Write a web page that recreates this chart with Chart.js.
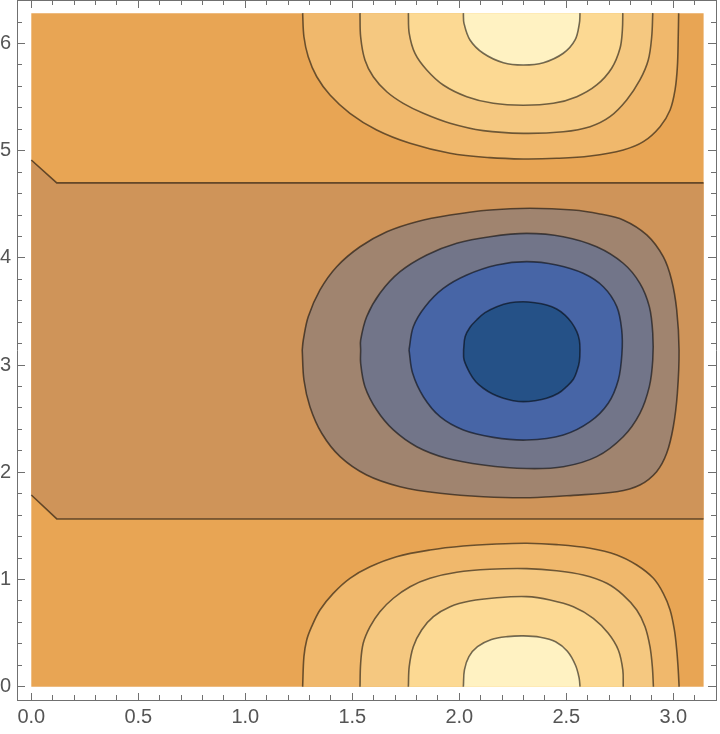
<!DOCTYPE html>
<html>
<head>
<meta charset="utf-8">
<script src="https://cdn.jsdelivr.net/npm/chart.js@4.4.1/dist/chart.umd.min.js"></script>
<style>
  html, body { margin: 0; padding: 0; background: #fff; }
</style>
</head>
<body>
<canvas id="chart" width="720" height="734"></canvas>
<script>
// Contour plot over x in [0, pi], y in [0, 2pi].
// Every contour is a list of [x, y] vertices.

const PI = 3.1416;
const TWO_PI = 6.2832;

// axis ticks
const xMajor = [0, 0.5, 1, 1.5, 2, 2.5, 3];
const xMajorLabels = ['0.0', '0.5', '1.0', '1.5', '2.0', '2.5', '3.0'];
const xMinor = [0.1, 0.2, 0.3, 0.4, 0.6, 0.7, 0.8, 0.9, 1.1, 1.2, 1.3, 1.4, 1.6, 1.7, 1.8, 1.9,
                2.1, 2.2, 2.3, 2.4, 2.6, 2.7, 2.8, 2.9, 3.1];
const yMajor = [0, 1, 2, 3, 4, 5, 6];
const yMajorLabels = ['0', '1', '2', '3', '4', '5', '6'];
const yMinor = [0.2, 0.4, 0.6, 0.8, 1.2, 1.4, 1.6, 1.8, 2.2, 2.4, 2.6, 2.8, 3.2, 3.4, 3.6, 3.8,
                4.2, 4.4, 4.6, 4.8, 5.2, 5.4, 5.6, 5.8, 6.2];

// whole plot region and the band between the two zero contours
const plate = [[0, 0], [PI, 0], [PI, TWO_PI], [0, TWO_PI]];
const band = [[0, 1.788], [0.119, 1.565], [PI, 1.565], [PI, 4.700], [0.119, 4.700], [0, 4.913]];
const zeroLow = [[0, 1.788], [0.119, 1.565], [PI, 1.565]];
const zeroHigh = [[0, 4.913], [0.119, 4.700], [PI, 4.700]];

// positive levels at the bottom edge (y = 0)
const lowRing1 = [[1.268, 0], [1.274, 0.280], [1.287, 0.436], [1.310, 0.560], [1.349, 0.716], [1.411, 0.871],
  [1.489, 1.011], [1.583, 1.119], [1.707, 1.213], [1.863, 1.275], [2.019, 1.312], [2.175, 1.331], [2.315, 1.338],
  [2.455, 1.325], [2.611, 1.291], [2.736, 1.229], [2.829, 1.135], [2.907, 1.011], [2.953, 0.871], [2.985, 0.716],
  [3.005, 0.529], [3.016, 0.342], [3.023, 0.156], [3.027, 0]];
const lowRing2 = [[1.536, 0], [1.539, 0.218], [1.551, 0.405], [1.583, 0.560], [1.629, 0.700], [1.692, 0.825],
  [1.770, 0.933], [1.863, 1.011], [1.988, 1.067], [2.143, 1.095], [2.315, 1.101], [2.455, 1.082], [2.579, 1.042],
  [2.689, 0.965], [2.766, 0.855], [2.829, 0.716], [2.868, 0.560], [2.891, 0.373], [2.902, 0.187], [2.907, 0]];
const lowRing3 = [[1.762, 0], [1.766, 0.187], [1.785, 0.373], [1.824, 0.529], [1.879, 0.653], [1.957, 0.746],
  [2.050, 0.799], [2.175, 0.830], [2.315, 0.840], [2.424, 0.809], [2.533, 0.746], [2.626, 0.638], [2.696, 0.498],
  [2.743, 0.342], [2.764, 0.156], [2.766, 0]];
const lowRing4 = [[2.019, 0], [2.024, 0.156], [2.045, 0.280], [2.085, 0.373], [2.150, 0.440], [2.225, 0.467],
  [2.300, 0.474], [2.378, 0.462], [2.450, 0.420], [2.505, 0.330], [2.543, 0.200], [2.560, 0.080], [2.564, 0]];

// positive levels at the top edge (y = 2pi)
const highRing1 = [[1.268, TWO_PI], [1.274, 6.063], [1.294, 5.877], [1.334, 5.690], [1.396, 5.520], [1.489, 5.349],
  [1.614, 5.193], [1.770, 5.069], [1.957, 4.976], [2.143, 4.935], [2.299, 4.923], [2.455, 4.929], [2.611, 4.951],
  [2.766, 5.007], [2.860, 5.084], [2.938, 5.224], [2.985, 5.380], [3.008, 5.566], [3.019, 5.784], [3.023, 6.063],
  [3.025, TWO_PI]];
const highRing2 = [[1.536, TWO_PI], [1.539, 6.063], [1.559, 5.846], [1.598, 5.690], [1.661, 5.550], [1.738, 5.442],
  [1.832, 5.349], [1.957, 5.256], [2.112, 5.187], [2.299, 5.162], [2.486, 5.177], [2.611, 5.224], [2.704, 5.317],
  [2.782, 5.473], [2.844, 5.660], [2.883, 5.846], [2.899, 6.063], [2.904, TWO_PI]];
const highRing3 = [[1.762, TWO_PI], [1.766, 6.095], [1.793, 5.908], [1.848, 5.753], [1.925, 5.613], [2.035, 5.504],
  [2.159, 5.442], [2.299, 5.424], [2.439, 5.442], [2.549, 5.504], [2.642, 5.613], [2.712, 5.769], [2.751, 5.955],
  [2.762, 6.126], [2.764, TWO_PI]];
const highRing4 = [[2.019, TWO_PI], [2.022, 6.188], [2.050, 6.033], [2.112, 5.909], [2.206, 5.821], [2.299, 5.800],
  [2.393, 5.821], [2.486, 5.909], [2.541, 6.033], [2.561, 6.188], [2.564, TWO_PI]];

// negative levels around y = pi (closed loops)
const dip1 = [[1.266, 3.141], [1.271, 3.234], [1.294, 3.451], [1.349, 3.701], [1.427, 3.918], [1.536, 4.104],
  [1.661, 4.244], [1.801, 4.338], [1.957, 4.400], [2.143, 4.447], [2.330, 4.463], [2.533, 4.447], [2.657, 4.410],
  [2.766, 4.354], [2.876, 4.214], [2.953, 4.011], [2.992, 3.794], [3.016, 3.514], [3.027, 3.141], [3.019, 2.737],
  [3.000, 2.425], [2.969, 2.177], [2.922, 2.006], [2.844, 1.882], [2.736, 1.819], [2.533, 1.785], [2.330, 1.763],
  [2.112, 1.772], [1.910, 1.804], [1.723, 1.866], [1.567, 1.975], [1.443, 2.146], [1.357, 2.364], [1.302, 2.612],
  [1.274, 2.861], [1.266, 3.141]];
const dip2 = [[1.539, 3.141], [1.539, 3.234], [1.567, 3.451], [1.629, 3.670], [1.723, 3.871], [1.848, 4.027],
  [1.988, 4.136], [2.143, 4.198], [2.315, 4.229], [2.486, 4.198], [2.642, 4.104], [2.766, 3.950], [2.844, 3.763],
  [2.888, 3.545], [2.904, 3.297], [2.904, 3.048], [2.888, 2.799], [2.844, 2.550], [2.766, 2.332], [2.642, 2.146],
  [2.486, 2.052], [2.315, 2.035], [2.112, 2.068], [1.941, 2.131], [1.801, 2.239], [1.692, 2.395], [1.614, 2.581],
  [1.559, 2.799], [1.539, 3.017], [1.539, 3.141]];
const dip3 = [[1.765, 3.141], [1.785, 3.358], [1.840, 3.545], [1.925, 3.716], [2.035, 3.841], [2.175, 3.934],
  [2.315, 3.965], [2.455, 3.934], [2.579, 3.856], [2.673, 3.731], [2.736, 3.545], [2.759, 3.327], [2.760, 3.110],
  [2.743, 2.861], [2.696, 2.644], [2.611, 2.472], [2.486, 2.348], [2.315, 2.301], [2.159, 2.326], [2.019, 2.395],
  [1.910, 2.519], [1.832, 2.705], [1.782, 2.923], [1.765, 3.141]];
const dip4 = [[2.020, 3.141], [2.027, 3.265], [2.050, 3.353], [2.081, 3.421], [2.120, 3.489], [2.175, 3.545],
  [2.237, 3.582], [2.299, 3.591], [2.354, 3.582], [2.408, 3.561], [2.455, 3.523], [2.494, 3.467], [2.525, 3.396],
  [2.549, 3.312], [2.561, 3.234], [2.564, 3.141], [2.561, 3.032], [2.551, 2.954], [2.533, 2.868], [2.501, 2.799],
  [2.463, 2.737], [2.408, 2.690], [2.354, 2.668], [2.299, 2.659], [2.252, 2.668], [2.206, 2.690], [2.156, 2.730],
  [2.112, 2.784], [2.077, 2.845], [2.050, 2.923], [2.022, 3.050], [2.020, 3.141]];

// --- styles ---
const LINE = 'rgba(0, 0, 0, 0.55)';
const FRAME = '#707070';
const LABEL = '#555555';
const FONT_FAMILY = 'Liberation Sans, Arial, sans-serif';
const FONT_SIZE = 20;
const SMOOTH = 0.35;

Chart.defaults.font.family = FONT_FAMILY;
Chart.defaults.font.size = FONT_SIZE;
Chart.defaults.color = LABEL;

// frame padding around the data range (Mathematica style)
const X_MIN = -0.0668, X_MAX = 3.1995;
const Y_MIN = -0.1241, Y_MAX = 6.4058;

function pts(list) {
    return list.map(p => ({ x: p[0], y: p[1] }));
}

function region(list, color, stroke, tension) {
    return {
        data: pts(list),
        showLine: true,
        fill: 'shape',
        backgroundColor: color,
        borderColor: stroke ? LINE : 'rgba(0,0,0,0)',
        borderWidth: stroke ? 1.6 : 0,
        tension: tension,
        pointRadius: 0
    };
}

function contourLine(list) {
    return {
        data: pts(list),
        showLine: true,
        fill: false,
        borderColor: LINE,
        borderWidth: 1.6,
        tension: 0,
        pointRadius: 0
    };
}

// listed bottom layer first
const layers = [
    region(plate, '#E8A554', false, 0),
    region(band, '#CF9459', false, 0),
    contourLine(zeroLow),
    contourLine(zeroHigh),
    region(lowRing1, '#F0B86C', true, SMOOTH),
    region(lowRing2, '#F5C880', true, SMOOTH),
    region(lowRing3, '#FCD993', true, SMOOTH),
    region(lowRing4, '#FFF2C2', true, SMOOTH),
    region(highRing1, '#F0B86C', true, SMOOTH),
    region(highRing2, '#F5C880', true, SMOOTH),
    region(highRing3, '#FCD993', true, SMOOTH),
    region(highRing4, '#FFF2C2', true, SMOOTH),
    region(dip1, '#A0846F', true, SMOOTH),
    region(dip2, '#727589', true, SMOOTH),
    region(dip3, '#4765A6', true, SMOOTH),
    region(dip4, '#255187', true, SMOOTH)
];
const datasets = layers.map((d, i) => Object.assign(d, { order: layers.length - i }));

function zeroPad(s) {
    s.paddingTop = 0; s.paddingBottom = 0; s.paddingLeft = 0; s.paddingRight = 0;
}

// builds one frame side: major ticks (optionally labelled) or minor ticks
function frameScale(axis, position, values, len, opts) {
    const horizontal = axis === 'x';
    return {
        type: 'linear',
        axis: axis,
        position: position,
        min: horizontal ? X_MIN : Y_MIN,
        max: horizontal ? X_MAX : Y_MAX,
        weight: opts.weight,
        afterBuildTicks: s => { s.ticks = values.map(v => ({ value: v })); },
        afterFit: s => {
            if (horizontal) s.height = opts.size; else s.width = opts.size;
            zeroPad(s);
        },
        grid: { drawOnChartArea: false, drawTicks: true, tickLength: len, color: FRAME, lineWidth: 1, z: 1 },
        border: { display: opts.border, color: FRAME, width: 1, z: 1 },
        ticks: {
            display: !!opts.labels,
            autoSkip: false,
            maxRotation: 0,
            padding: opts.padding || 0,
            color: LABEL,
            font: { family: FONT_FAMILY, size: FONT_SIZE },
            callback: (v, i) => opts.labels ? opts.labels[i] : ''
        }
    };
}

new Chart(document.getElementById('chart'), {
    type: 'scatter',
    data: { datasets: datasets },
    options: {
        responsive: false,
        animation: false,
        devicePixelRatio: 1,
        layout: { padding: { top: 0, right: 4, bottom: 0, left: 0 } },
        plugins: { legend: { display: false }, tooltip: { enabled: false } },
        scales: {
            x: frameScale('x', 'bottom', xMajor, -7, { weight: 1, size: 34, border: true, labels: xMajorLabels, padding: 12 }),
            xMinor: frameScale('x', 'bottom', xMinor, -5, { weight: 0, size: 0, border: false }),
            xTop: frameScale('x', 'top', xMajor, -8, { weight: 1, size: 0, border: true }),
            xTopMinor: frameScale('x', 'top', xMinor, -5, { weight: 0, size: 0, border: false }),
            y: frameScale('y', 'left', yMajor, -8, { weight: 1, size: 17, border: true, labels: yMajorLabels, padding: 14 }),
            yMinor: frameScale('y', 'left', yMinor, -5, { weight: 0, size: 0, border: false }),
            yRight: frameScale('y', 'right', yMajor, -8, { weight: 1, size: 0, border: true }),
            yRightMinor: frameScale('y', 'right', yMinor, -5, { weight: 0, size: 0, border: false })
        }
    }
});
</script>
</body>
</html>
